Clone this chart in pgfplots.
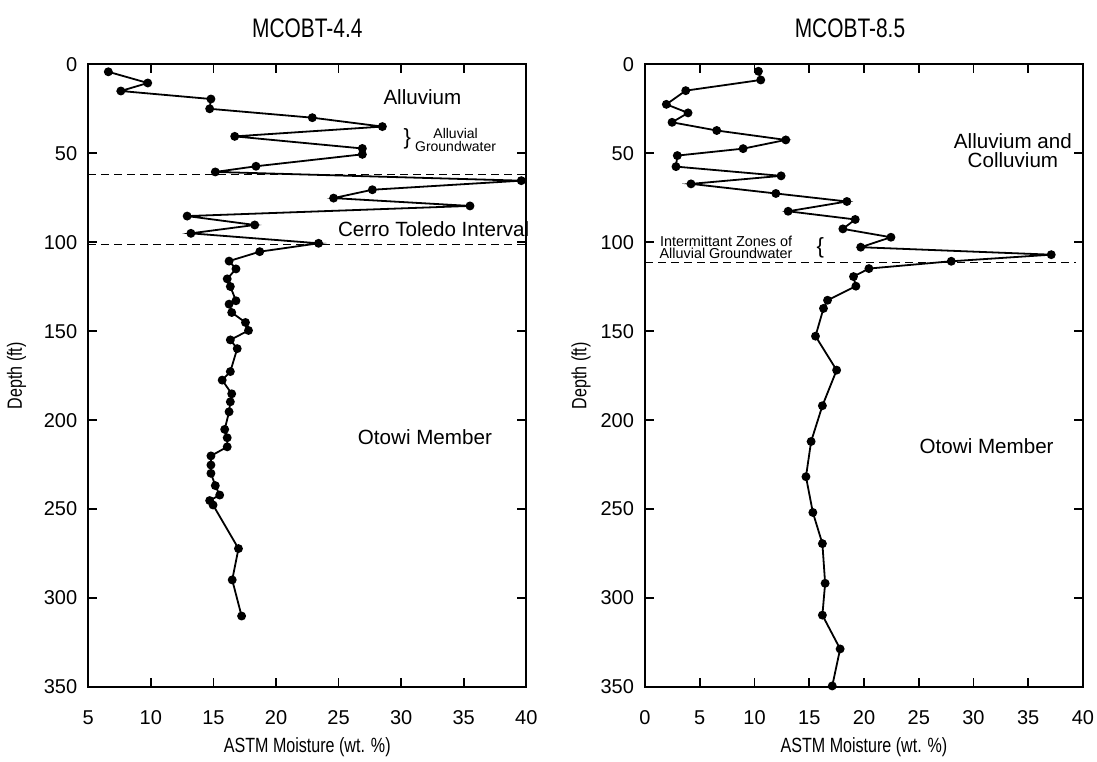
\documentclass[border=0pt]{standalone}
\usepackage{fontspec}
\setmainfont{Liberation Sans}
\newfontfamily\narrow[FakeStretch=0.78]{Liberation Sans}
\usepackage{pgfplots}
\pgfplotsset{compat=1.18}

% shared look of both depth panels
\pgfplotsset{core/.style={
  scale only axis, width=219pt, height=311.35pt, anchor=south west,
  y dir=reverse, ymin=0, ymax=350, ytick={0,50,...,350},
  tick align=inside, major tick length=4.5pt,
  axis line style={line width=1pt},
  tick style={line width=0.9pt, black},
  clip=false,
  tick label style={font=\fontsize{10}{12}\selectfont},
  /pgf/number format/assume math mode=true,
  xticklabel style={yshift=-8.4pt},
  yticklabel style={xshift=-2pt},
  label style={font=\narrow\fontsize{10.3}{12}\selectfont},
  xlabel={ASTM Moisture (wt. \%)},
  ylabel={Depth (ft)},
  xlabel style={at={(axis description cs:0.5,-0.0963)}, anchor=center},
  title style={font=\narrow\fontsize{13.4}{15}\selectfont, anchor=center},
}}
\tikzset{prof/.style={black, line width=0.9pt, mark=*, mark size=1.75pt, mark options={solid}},
  zone/.style={black, line width=0.85pt, dash pattern=on 4pt off 2.5pt, no markers}}

\begin{document}
\begin{tikzpicture}
\useasboundingbox (-44.15pt,-37pt) rectangle (504.35pt,343.5pt);

\begin{axis}[core, at={(0,0)},
  xmin=5, xmax=40, xtick={5,10,...,40},
  title={MCOBT-4.4},
  title style={at={(axis description cs:0.5,1.0385)}},
  ylabel style={at={(axis description cs:-0.164,0.5)}, anchor=center},
]
\addplot[zone] coordinates {(5,62) (40,62)};
\addplot[zone] coordinates {(5,101.2) (40,101.2)};
\addplot[prof] coordinates {
  (6.6,4.2) (9.75,10.5) (7.6,15) (14.8,19.5) (14.7,25) (22.9,30) (28.5,35)
  (16.7,40.5) (26.9,47.3) (26.9,50.6) (18.4,57.3) (15.15,60.5) (39.6,65.4)
  (27.7,70.5) (24.6,75.2) (35.5,79.6) (12.9,85.3) (18.3,90.3) (13.2,95)
  (23.4,100.6) (18.7,105.3) (16.25,110.6) (16.8,115) (16.1,120.6) (16.35,124.9)
  (16.8,132.9) (16.25,134.8) (16.46,139.5) (17.56,145.1) (17.8,149.6)
  (16.35,154.9) (16.9,159.8) (16.35,172.7) (15.7,177.5) (16.46,185.2)
  (16.35,189.7) (16.25,195.3) (15.9,205.2) (16.1,209.9) (16.1,215)
  (14.8,220.1) (14.8,225.2) (14.8,229.9) (15.15,236.8) (15.5,242.1)
  (14.7,245.2) (14.97,247.7) (17.0,272.2) (16.5,289.8) (17.25,310.1)
};
\node[font=\fontsize{10.3}{12}\selectfont] at (axis cs:31.7,18.4) {Alluvium};
\node[font=\fontsize{11}{12}\selectfont] at (axis cs:30.5,41.7) {\}};
\node[align=center, font=\fontsize{7}{6.4}\selectfont] at (axis cs:34.35,42.6) {Alluvial\\Groundwater};
\node[font=\fontsize{10.3}{12}\selectfont] at (axis cs:32.6,92.6) {Cerro Toledo Interval};
\node[font=\fontsize{10.3}{12}\selectfont] at (axis cs:31.9,209.5) {Otowi Member};
\end{axis}

\begin{axis}[core, at={(278.35pt,0)},
  xmin=0, xmax=40, xtick={0,5,...,40},
  title={MCOBT-8.5},
  title style={at={(axis description cs:0.468,1.0385)}},
  ylabel style={at={(axis description cs:-0.146,0.5)}, anchor=center},
]
\addplot[zone] coordinates {(0,111.4) (39.4,111.4)};
\addplot[prof] coordinates {
  (10.36,3.9) (10.57,8.8) (3.72,14.8) (1.95,22.5) (3.93,27.3) (2.47,32.6)
  (6.55,37.2) (12.86,42.5) (8.96,47.4) (2.95,51.3) (2.83,57.5) (12.43,62.7)
  (4.2,67.2) (11.95,72.6) (18.44,77.1) (13.07,82.6) (19.2,87.2) (18.07,92.5)
  (22.46,97.2) (19.7,102.8) (37.1,107) (27.97,110.7) (20.45,114.8)
  (19.04,119.3) (19.26,124.7) (16.67,132.6) (16.3,137.2) (15.57,152.8)
  (17.5,171.9) (16.2,191.9) (15.17,212) (14.7,231.8) (15.33,251.9)
  (16.2,269.4) (16.45,291.7) (16.2,309.6) (17.82,328.6) (17.1,349.4)
};
\node[align=center, font=\fontsize{10.3}{9.6}\selectfont] at (axis cs:33.6,48.6) {Alluvium and\\Colluvium};
\node[align=center, font=\fontsize{7.2}{5.8}\selectfont] at (axis cs:7.4,103) {Intermittant Zones of\\Alluvial Groundwater};
\node[font=\fontsize{11}{12}\selectfont] at (axis cs:16.0,103) {\{};
\node[font=\fontsize{10.3}{12}\selectfont] at (axis cs:31.2,214.8) {Otowi Member};
\end{axis}
\end{tikzpicture}
\end{document}
